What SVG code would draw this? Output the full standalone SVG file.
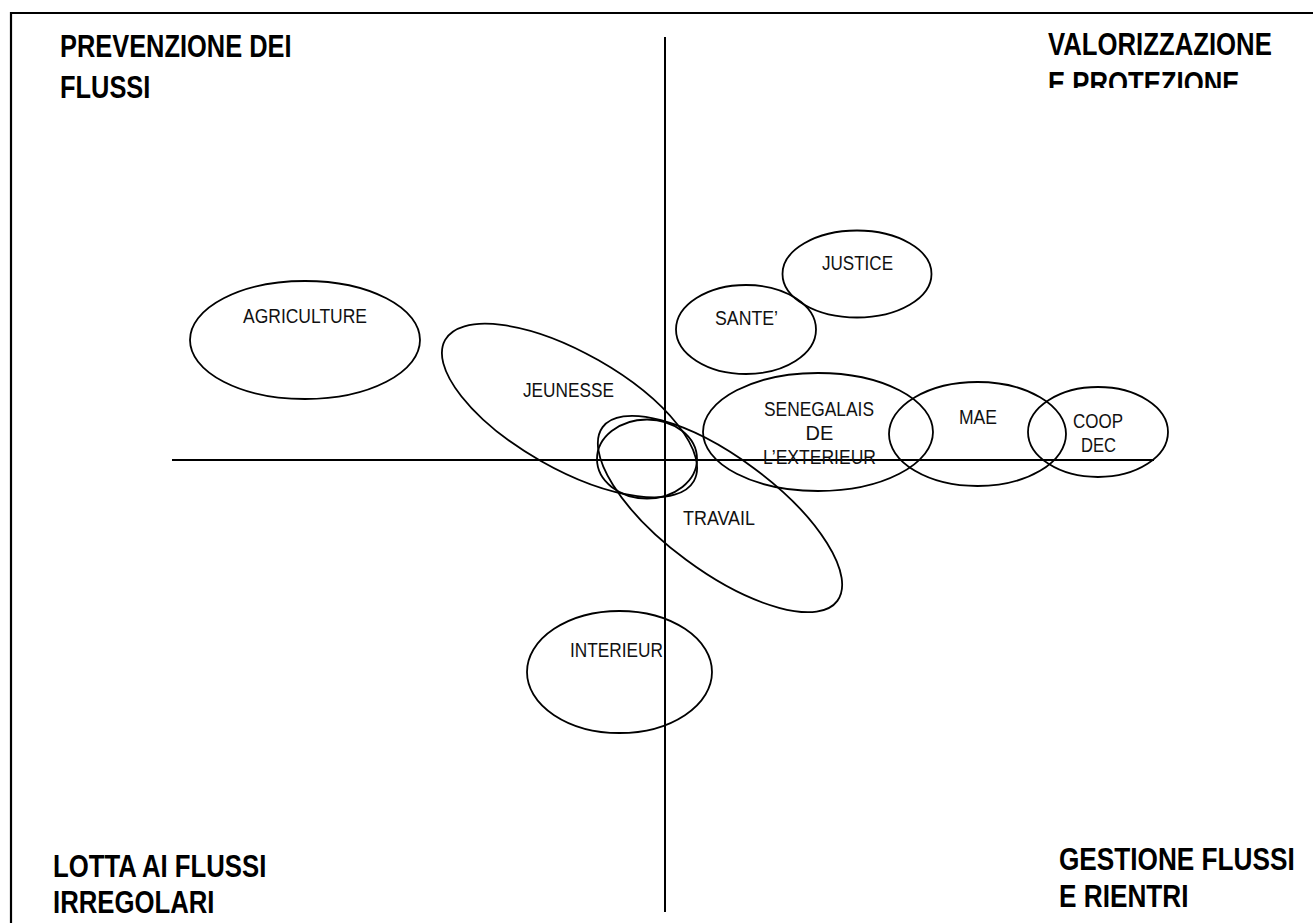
<svg xmlns="http://www.w3.org/2000/svg" width="1313" height="923" viewBox="0 0 1313 923">
<style>
.frame{fill:none;stroke:#000;stroke-width:2.2}
.axis{fill:none;stroke:#000;stroke-width:2}
.node{fill:none;stroke:#000;stroke-width:1.8}
.lbl{font-family:"Liberation Sans",Arial,sans-serif;font-size:20px;fill:#111;text-anchor:middle}
.ttl{font-family:"Liberation Sans",Arial,sans-serif;font-size:31px;font-weight:bold;fill:#000}
</style>
<defs>
<clipPath id="clipTR"><rect x="1000" y="20" width="313" height="68"/></clipPath>
</defs>
<rect width="1313" height="923" fill="#fff"/>
<path class="frame" d="M11,923 V13 H1313"/>
<g id="titles">
<text class="ttl" transform="translate(60,57) scale(0.82,1)">PREVENZIONE DEI</text>
<text class="ttl" transform="translate(60,98) scale(0.82,1)">FLUSSI</text>
<g clip-path="url(#clipTR)">
<text class="ttl" transform="translate(1048,55) scale(0.83,1)">VALORIZZAZIONE</text>
<text class="ttl" transform="translate(1048,94) scale(0.83,1)">E PROTEZIONE</text>
</g>
<text class="ttl" transform="translate(53,877) scale(0.83,1)">LOTTA AI FLUSSI</text>
<text class="ttl" transform="translate(53,913) scale(0.83,1)">IRREGOLARI</text>
<text class="ttl" transform="translate(1059,870) scale(0.845,1)">GESTIONE FLUSSI</text>
<text class="ttl" transform="translate(1059,907) scale(0.845,1)">E RIENTRI</text>
</g>
<g id="connectors">
<line class="axis" x1="665" y1="37" x2="665" y2="912"/>
<line class="axis" x1="172" y1="460" x2="1154" y2="460"/>
</g>
<g id="agriculture">
<ellipse class="node" cx="305" cy="340" rx="115" ry="59"/>
<text class="lbl" x="305" y="323" textLength="124" lengthAdjust="spacingAndGlyphs">AGRICULTURE</text>
</g>
<g id="jeunesse">
<ellipse class="node" cx="569.5" cy="410.5" rx="143" ry="58" transform="rotate(29.6 569.5 410.5)"/>
<text class="lbl" x="568.5" y="397" textLength="91" lengthAdjust="spacingAndGlyphs">JEUNESSE</text>
</g>
<g id="centre">
<ellipse class="node" cx="647" cy="459" rx="50" ry="39.5"/>
</g>
<g id="travail">
<ellipse class="node" cx="720" cy="514" rx="146" ry="57" transform="rotate(36.5 720 514)"/>
<text class="lbl" x="719" y="525" textLength="72" lengthAdjust="spacingAndGlyphs">TRAVAIL</text>
</g>
<g id="justice">
<ellipse class="node" cx="857" cy="274" rx="74.5" ry="43.5"/>
<text class="lbl" x="857.5" y="270" textLength="71" lengthAdjust="spacingAndGlyphs">JUSTICE</text>
</g>
<g id="sante">
<ellipse class="node" cx="746" cy="329.5" rx="70" ry="44.5"/>
<text class="lbl" x="746.5" y="325" textLength="63" lengthAdjust="spacingAndGlyphs">SANTE’</text>
</g>
<g id="senegalais">
<ellipse class="node" cx="818" cy="432" rx="115" ry="59"/>
<text class="lbl" x="819" y="416" textLength="110" lengthAdjust="spacingAndGlyphs">SENEGALAIS</text>
<text class="lbl" x="819.5" y="440">DE</text>
<text class="lbl" x="819.5" y="464" textLength="113" lengthAdjust="spacingAndGlyphs">L’EXTERIEUR</text>
</g>
<g id="mae">
<ellipse class="node" cx="977.5" cy="434" rx="88.5" ry="52"/>
<text class="lbl" x="978" y="424" textLength="38" lengthAdjust="spacingAndGlyphs">MAE</text>
</g>
<g id="coopdec">
<ellipse class="node" cx="1098" cy="432" rx="70" ry="45"/>
<text class="lbl" x="1098" y="428" textLength="50" lengthAdjust="spacingAndGlyphs">COOP</text>
<text class="lbl" x="1098.5" y="452" textLength="35" lengthAdjust="spacingAndGlyphs">DEC</text>
</g>
<g id="interieur">
<ellipse class="node" cx="619.5" cy="672" rx="92.5" ry="61"/>
<text class="lbl" x="616.5" y="657" textLength="93" lengthAdjust="spacingAndGlyphs">INTERIEUR</text>
</g>
</svg>
